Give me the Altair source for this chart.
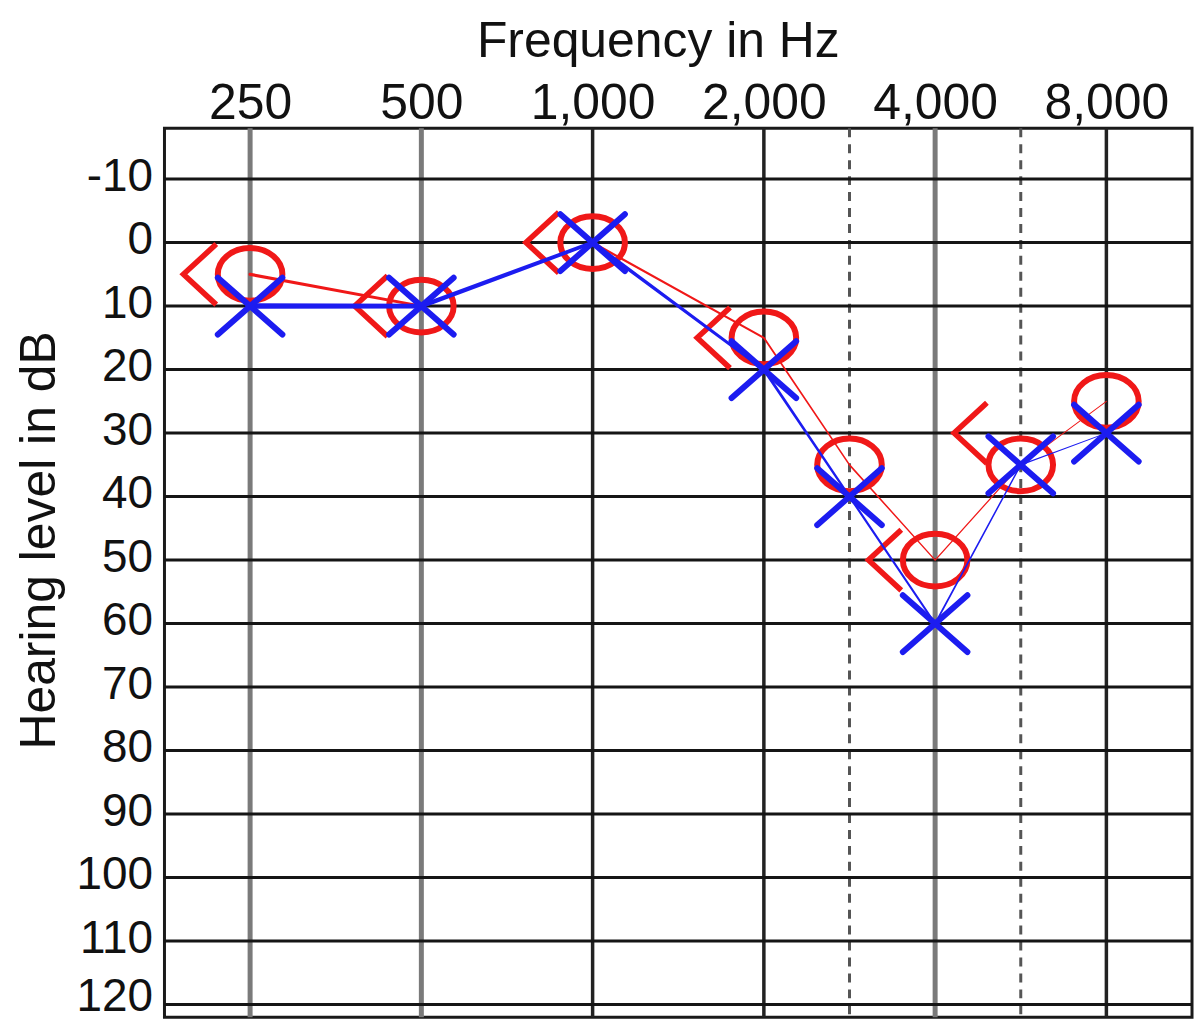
import altair as alt
import pandas as pd

# ---- data ----
freqs = [250, 500, 1000, 2000, 3000, 4000, 6000, 8000]
right_air = [5, 10, 0, 15, 35, 50, 35, 25]      # red O
left_air = [10, 10, 0, 20, 40, 60, 35, 30]      # blue X
bone_freqs = [250, 500, 1000, 2000, 4000, 6000]
right_bone = [5, 10, 0, 15, 50, 30]             # red <

# audiometric half-octave slots (the x axis is laid out by slot)
half_octave_slots = [180, 250, 350, 500, 750, 1000, 1500, 2000, 3000, 4000, 6000, 8000, 12000]
label_freqs = [250, 500, 1000, 2000, 4000, 8000]
grey_lines = [250, 500, 4000]
black_lines = [1000, 2000, 8000]
dashed_lines = [3000, 6000]
db_levels = list(range(-10, 121, 10))

RED = "#f01818"
BLUE = "#1c1cf0"
FONT = "Liberation Sans"

air_r = pd.DataFrame({"f": freqs, "db": right_air})
air_l = pd.DataFrame({"f": freqs, "db": left_air})
bone_r = pd.DataFrame({"f": bone_freqs, "db": right_bone})
grey_df = pd.DataFrame({"f": grey_lines})
black_df = pd.DataFrame({"f": black_lines})
dash_df = pd.DataFrame({"f": dashed_lines})
hgrid_df = pd.DataFrame({"db": db_levels})

xscale = alt.Scale(type="point", domain=half_octave_slots, padding=0)
yscale = alt.Scale(domain=[-18, 122], reverse=True, nice=False, zero=False)

xaxis = alt.Axis(
    orient="top", values=label_freqs, labelExpr="format(datum.value, ',')",
    domain=False, ticks=False, tickSize=0, grid=False, labelPadding=10,
    labelBaseline="alphabetic", labelFontSize=50, labelAngle=0,
    labelFlush=False, labelOverlap=False, labelColor="#111",
    title="Frequency in Hz", titleFontSize=50, titleFontWeight="normal",
    titleX=495, titleY=-72, titleBaseline="alphabetic", titleColor="#111",
)
yaxis = alt.Axis(
    values=db_levels, labelExpr="'' + datum.value", domain=False, ticks=False, tickSize=0,
    grid=False, labelPadding=12, labelFontSize=46,
    labelOffset={"condition": {"test": "datum.value === 120", "value": -8}, "value": -3},
    labelFlush=False, labelOverlap=False, labelColor="#111",
    title="Hearing level in dB", titleFontSize=50, titleFontWeight="normal",
    titleX=-110, titleY=413, titleAngle=270, titleBaseline="alphabetic", titleColor="#111",
)

X = alt.X("f:O", scale=xscale, axis=xaxis)
Y = alt.Y("db:Q", scale=yscale, axis=yaxis)

vgrey = alt.Chart(grey_df).mark_rule(color="#7a7a7a", strokeWidth=5).encode(x=X)
vblack = alt.Chart(black_df).mark_rule(color="#222222", strokeWidth=3.5).encode(x=X)
vdash = alt.Chart(dash_df).mark_rule(color="#555555", strokeWidth=3, strokeDash=[9, 7]).encode(x=X)
hgrid = alt.Chart(hgrid_df).mark_rule(color="#151515", strokeWidth=3).encode(y=Y)

# lines taper toward the high frequencies, as in the reference drawing
red_line = alt.Chart(air_r).transform_calculate(
    w="3.2 - 0.45 * log(datum.f / 250) / LN2"
).mark_trail(color=RED).encode(
    x=X, y=Y, size=alt.Size("w:Q", scale=None, legend=None)
)
blue_line = alt.Chart(air_l).transform_calculate(
    w="5.5 - 0.9 * log(datum.f / 250) / LN2"
).mark_trail(color=BLUE).encode(
    x=X, y=Y, size=alt.Size("w:Q", scale=None, legend=None)
)

O_PATH = "M -1.08 0 A 1.08 0.88 0 1 0 1.08 0 A 1.08 0.88 0 1 0 -1.08 0 Z"
X_PATH = "M -1.08 -0.95 L 1.08 0.95 M -1.08 0.95 L 1.08 -0.95"
LT_PATH = "M -1.2 -0.95 L -2.23 0 L -1.2 0.95"

red_o = alt.Chart(air_r).mark_point(
    shape=O_PATH, size=3600, filled=False, color=RED, strokeWidth=6, opacity=1
).encode(x=X, y=Y)
red_lt = alt.Chart(bone_r).mark_point(
    shape=LT_PATH, size=3600, filled=False, color=RED, strokeWidth=5.5, opacity=1,
    strokeCap="square",
).encode(x=X, y=Y)
blue_x = alt.Chart(air_l).mark_point(
    shape=X_PATH, size=3600, filled=False, color=BLUE, strokeWidth=6, opacity=1,
    strokeCap="round",
).encode(x=X, y=Y)

chart = alt.layer(
    vgrey, vblack, vdash, hgrid, red_line, red_o, red_lt, blue_line, blue_x
).properties(
    width=1031, height=892,
    autosize=alt.AutoSizeParams(type="none"),
    padding={"left": 157, "top": 119, "right": 4, "bottom": 3},
    background="white",
).configure_view(
    stroke="#1a1a1a", strokeWidth=3
).configure_axis(
    labelFont=FONT, titleFont=FONT
)

chart.save("out.html", embed_options={"renderer": "svg", "actions": False})
